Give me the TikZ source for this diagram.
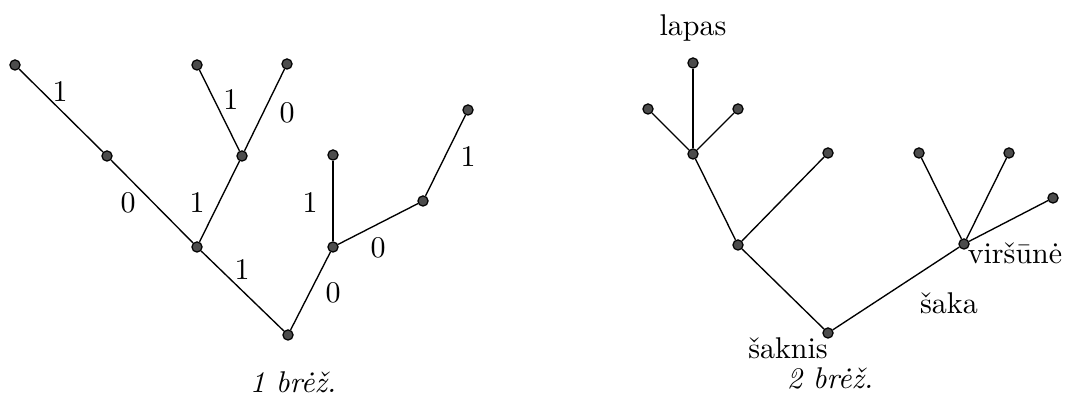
\documentclass[tikz,border=0pt]{standalone}
\usepackage{fontspec}
\usetikzlibrary{positioning}
\tikzset{
    vertex/.style={circle, draw=black, fill=black!70, inner sep=0pt, minimum size=3.4pt},
    edge/.style={draw=black, line width=0.45pt},
    weight/.style={inner sep=1pt},
    caption/.style={font=\itshape},
    term/.style={inner sep=1pt}
}

\begin{document}
\begin{tikzpicture}[x=0.3333pt, y=-0.3333pt]
    \useasboundingbox (0,0) rectangle (1066,397);

    % 1 brez.
    \node (a1) [vertex] at (15,65) {};
    \node (b1) [vertex] at (107,156) {};
    \node (c1) [vertex] at (197,247) {};
    \node (r1) [vertex] at (288,335) {};
    \node (d1) [vertex] at (242,156) {};
    \node (e1) [vertex] at (197,65) {};
    \node (f1) [vertex] at (287,64) {};
    \node (g1) [vertex] at (333,247) {};
    \node (h1) [vertex] at (333,155) {};
    \node (i1) [vertex] at (423,201) {};
    \node (j1) [vertex] at (468,110) {};

    \draw [edge] (a1) -- (b1);
    \draw [edge] (b1) -- (c1);
    \draw [edge] (c1) -- (r1);
    \draw [edge] (c1) -- (d1);
    \draw [edge] (d1) -- (e1);
    \draw [edge] (d1) -- (f1);
    \draw [edge] (r1) -- (g1);
    \draw [edge] (g1) -- (h1);
    \draw [edge] (g1) -- (i1);
    \draw [edge] (i1) -- (j1);

    \node (w1) [weight] at (60,92) {1};
    \node (w2) [weight] at (231,100) {1};
    \node (w3) [weight] at (287,113) {0};
    \node (w4) [weight] at (128,203) {0};
    \node (w5) [weight] at (197,203) {1};
    \node (w6) [weight] at (310,203) {1};
    \node (w7) [weight] at (468,157) {1};
    \node (w8) [weight] at (378,248) {0};
    \node (w9) [weight] at (242,270) {1};
    \node (w10) [weight] at (333,293) {0};

    \node (cap1) [caption] at (293,382) {1 brėž.};

    % 2 brez.
    \node (l1) [vertex] at (693,63) {};
    \node (l2) [vertex] at (648,109) {};
    \node (l3) [vertex] at (738,109) {};
    \node (p2) [vertex] at (693,154) {};
    \node (q2) [vertex] at (738,245) {};
    \node (m2) [vertex] at (828,153) {};
    \node (r2) [vertex] at (828,333) {};
    \node (v2) [vertex] at (964,244) {};
    \node (n1) [vertex] at (919,153) {};
    \node (n2) [vertex] at (1009,153) {};
    \node (n3) [vertex] at (1053,198) {};

    \draw [edge] (p2) -- (l1);
    \draw [edge] (p2) -- (l2);
    \draw [edge] (p2) -- (l3);
    \draw [edge] (p2) -- (q2);
    \draw [edge] (q2) -- (m2);
    \draw [edge] (q2) -- (r2);
    \draw [edge] (r2) -- (v2);
    \draw [edge] (v2) -- (n1);
    \draw [edge] (v2) -- (n2);
    \draw [edge] (v2) -- (n3);

    \node (lapas) [term] at (693,28) {lapas};
    \node (virsune) [term] at (1015,253) {viršūnė};
    \node (saka) [term] at (949,303) {šaka};
    \node (saknis) [term] at (788,348) {šaknis};

    \node (cap2) [caption] at (830,378) {2 brėž.};
\end{tikzpicture}
\end{document}
